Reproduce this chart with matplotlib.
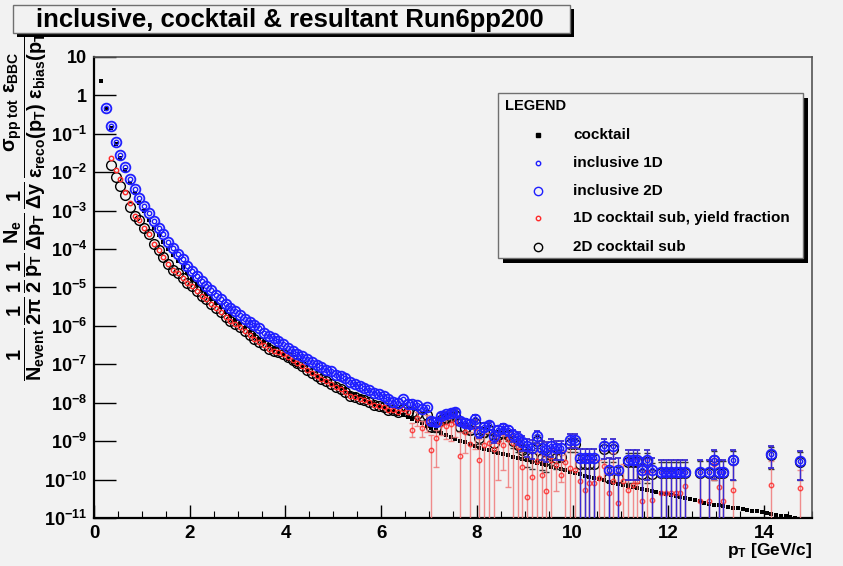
import numpy as np
import matplotlib
matplotlib.use("Agg")
import matplotlib.pyplot as plt
from matplotlib.lines import Line2D
from matplotlib.patches import Rectangle
from matplotlib.ticker import FixedLocator, LogLocator, MultipleLocator, NullFormatter

# ---- values, all as log10(yield) ----
# cocktail, bin centres 0.15, 0.25, ... 14.65
cocktail_log = [
    0.38, -0.36, -0.84, -1.27, -1.63, -1.95, -2.27, -2.55, -2.80, -3.02,
    -3.23, -3.44, -3.63, -3.81, -3.99, -4.16, -4.32, -4.47, -4.62, -4.77,
    -4.91, -5.04, -5.17, -5.29, -5.41, -5.52, -5.63, -5.74, -5.85, -5.96,
    -6.06, -6.15, -6.24, -6.33, -6.42, -6.50, -6.59, -6.67, -6.76, -6.85,
    -6.93, -7.01, -7.08, -7.16, -7.23, -7.30, -7.37, -7.43, -7.50, -7.56,
    -7.62, -7.68, -7.74, -7.80, -7.86, -7.91, -7.97, -8.02, -8.08, -8.13,
    -8.18, -8.23, -8.28, -8.33, -8.38, -8.43, -8.48, -8.54, -8.60, -8.66,
    -8.72, -8.78, -8.84, -8.89, -8.94, -8.99, -9.03, -9.08, -9.12, -9.17,
    -9.21, -9.24, -9.28, -9.31, -9.34, -9.37, -9.40, -9.44, -9.47, -9.50,
    -9.53, -9.57, -9.60, -9.63, -9.66, -9.70, -9.73, -9.76, -9.79, -9.83,
    -9.86, -9.90, -9.93, -9.96, -9.99, -10.02, -10.05, -10.08, -10.11, -10.14,
    -10.17, -10.20, -10.23, -10.25, -10.28, -10.31, -10.33, -10.36, -10.38, -10.41,
    -10.43, -10.46, -10.48, -10.51, -10.54, -10.57, -10.60, -10.63, -10.65, -10.67,
    -10.69, -10.71, -10.73, -10.75, -10.77, -10.79, -10.81, -10.83, -10.85, -10.87,
    -10.89, -10.92, -10.94, -10.96, -10.98, -11.00,
]

# inclusive (1D and 2D sit on top of each other), bin centres 0.25 ... 6.95
incl_low_log = [
    -0.33, -0.80, -1.22, -1.56, -1.87, -2.18, -2.44, -2.67, -2.88, -3.07,
    -3.28, -3.46, -3.62, -3.82, -3.98, -4.12, -4.26, -4.43, -4.56, -4.71,
    -4.82, -4.95, -5.06, -5.19, -5.31, -5.42, -5.53, -5.62, -5.72, -5.81,
    -5.90, -5.98, -6.06, -6.18, -6.25, -6.32, -6.40, -6.48, -6.57, -6.66,
    -6.73, -6.79, -6.87, -6.95, -7.02, -7.08, -7.15, -7.18, -7.27, -7.31,
    -7.35, -7.45, -7.51, -7.57, -7.61, -7.68, -7.74, -7.78, -7.83, -7.90,
    -7.97, -8.00, -7.91, -8.02, -8.04, -8.07, -8.15, -8.11,
]

# high pT bins that have entries
high_pt = [
    7.05, 7.15, 7.25, 7.35, 7.45, 7.55, 7.65, 7.75, 7.85, 7.95,
    8.05, 8.15, 8.25, 8.35, 8.45, 8.55, 8.65, 8.75, 8.85, 8.95,
    9.05, 9.15, 9.25, 9.35, 9.45, 9.55, 9.65, 9.75, 9.95, 10.05,
    10.15, 10.25, 10.35, 10.45, 10.65, 10.75, 10.85, 10.95, 11.15, 11.25,
    11.35, 11.45, 11.55, 11.65, 11.85, 11.95, 12.05, 12.15, 12.25, 12.35,
    12.65, 12.85, 12.95, 13.05, 13.15, 13.35, 14.15, 14.75,
]
incl_high_log = [
    -8.48, -8.49, -8.35, -8.30, -8.26, -8.23, -8.48, -8.52, -8.55, -8.41,
    -8.76, -8.63, -8.59, -8.87, -8.72, -8.67, -8.72, -8.83, -8.91, -9.02,
    -9.13, -9.17, -8.87, -9.19, -9.22, -9.13, -9.19, -9.19, -8.96, -8.96,
    -9.45, -9.45, -9.45, -9.45, -9.13, -9.74, -9.13, -9.74, -9.48, -9.48,
    -9.48, -9.74, -9.48, -9.74, -9.79, -9.79, -9.79, -9.79, -9.79, -9.79,
    -9.79, -9.79, -9.48, -9.79, -9.79, -9.48, -9.33, -9.52,
]
# error bar extents in decades (9 = runs off the bottom of the frame)
incl_high_up = [
    .09, .09, .08, .07, .07, .07, .09, .09, .10, .08,
    .12, .10, .10, .14, .12, .11, .12, .13, .14, .16,
    .18, .19, .14, .19, .20, .18, .19, .19, .15, .15,
    .24, .24, .24, .24, .18, .30, .18, .30, .24, .24,
    .24, .30, .24, .30, .31, .31, .31, .31, .31, .31,
    .31, .31, .24, .31, .31, .24, .21, .26,
]
incl_high_dn = [
    .11, .11, .09, .09, .08, .08, .11, .12, .12, .10,
    .16, .14, .13, .19, .15, .14, .15, .18, .20, .24,
    .28, .30, .19, .30, .32, .28, .30, .30, .21, .21,
    9, 9, 9, 9, .33, 9, .33, 9, .54, .54,
    .54, 9, .54, 9, 9, 9, 9, 9, 9, 9,
    9, 9, .50, 9, 9, .52, .37, .48,
]

# cocktail-subtracted, bin centres 0.35 ... 6.55
sub1d_head_log = [-1.62, -1.93, -2.17, -2.52, -2.80]
sub2d_head_log = [-1.82, -2.12, -2.37, -2.58, -2.91]
sub_low_log = [
    -3.13, -3.25, -3.46, -3.60, -3.86, -4.02, -4.20, -4.40, -4.54, -4.62,
    -4.75, -4.87, -4.97, -5.08, -5.21, -5.31, -5.42, -5.53, -5.64, -5.76,
    -5.86, -5.95, -6.04, -6.14, -6.23, -6.33, -6.42, -6.50, -6.59, -6.64,
    -6.69, -6.74, -6.80, -6.88, -6.96, -7.05, -7.14, -7.23, -7.30, -7.38,
    -7.44, -7.50, -7.59, -7.65, -7.72, -7.82, -7.85, -7.90, -7.94, -7.99,
    -8.05, -8.09, -8.12, -8.18, -8.20, -8.25, -8.15, -8.25,
]
# 2D subtracted: 6.65 ... 6.95, then the high_pt bins
sub2d_mid_log = [-8.25, -8.30, -8.35, -8.32]
sub2d_high_log = [
    -8.62, -8.64, -8.45, -8.40, -8.36, -8.32, -8.62, -8.66, -8.70, -8.52,
    -8.92, -8.76, -8.71, -9.06, -8.85, -8.79, -8.85, -8.99, -9.09, -9.23,
    -9.38, -9.42, -8.99, -9.44, -9.48, -9.35, -9.43, -9.42, -9.08, -9.08,
    -9.59, -9.59, -9.59, -9.59, -9.20, -9.97, -9.20, -9.97, -9.55, -9.55,
    -9.55, -9.86, -9.55, -9.86, -9.84, -9.84, -9.84, -9.84, -9.84, -9.84,
    -9.83, -9.83, -9.50, -9.83, -9.83, -9.50, -9.35, -9.53,
]

# 1D subtracted (yield fraction) above 6.6 GeV/c
red_pt = [
    6.65, 6.75, 6.85, 6.95, 7.05, 7.15, 7.25, 7.35, 7.45, 7.55,
    7.65, 7.75, 7.85, 7.95, 8.05, 8.15, 8.25, 8.35, 8.45, 8.55,
    8.65, 8.75, 8.85, 8.95, 9.05, 9.15, 9.25, 9.35, 9.45, 9.55,
    9.65, 9.75, 9.85, 9.95, 10.05, 10.15, 10.25, 10.35, 10.45, 10.55,
    10.65, 10.75, 10.85, 10.95, 11.05, 11.15, 11.25, 11.35, 11.45, 11.55,
    11.65, 11.85, 11.95, 12.05, 12.15, 12.25, 12.35, 12.65, 12.85, 12.95,
    13.05, 13.15, 13.35, 14.15, 14.75,
]
red_log = [
    -8.70, -8.40, -8.65, -8.50, -9.24, -8.91, -8.55, -8.60, -8.55, -8.50,
    -9.39, -8.75, -9.07, -8.65, -9.48, -9.10, -9.05, -9.20, -9.00, -9.10,
    -8.95, -9.05, -9.15, -9.68, -10.46, -9.94, -9.52, -9.87, -10.30, -9.50,
    -9.61, -9.87, -9.55, -9.70, -9.74, -10.04, -10.26, -10.09, -10.09, -9.96,
    -9.65, -10.35, -10.04, -10.61, -10.04, -10.26, -10.13, -10.04, -10.55, -9.80,
    -10.52, -10.35, -10.35, -10.35, -10.35, -10.35, -10.18, -10.55, -10.55, -9.60,
    -10.20, -10.55, -10.26, -10.13, -10.22,
]
red_up = [
    .18, .15, .17, .18, .39, .21, .15, .18, .17, .15,
    .64, .20, .32, .20, .53, .30, .27, .30, .20, .25,
    .20, .20, .20, .43, 1.06, .64, .47, .52, .90, .30,
    .31, .52, .30, .55, .59, .59, .76, .59, .59, .46,
    .40, .55, .74, .81, .44, .76, .63, .54, .75, .30,
    .72, .55, .55, .55, .55, .55, .38, .76, .76, .15,
    .41, .76, .64, .62, .48,
]
red_dn = [
    .20, .20, .25, .25, 9, .77, .30, .35, .45, .40,
    9, .55, 9, .55, 9, 9, 9, 9, 1.00, .65,
    1.25, 9, 9, 9, 9, 9, 9, 9, 9, 9,
    .69, .18, 9, 9, 9, 9, 9, 9, 9, 9,
    9, 9, 9, 9, 9, 9, 9, 9, 9, 9,
    9, 9, 9, 9, 9, 9, 9, 9, 9, .40,
    9, 9, 9, 9, 9,
]

# ---- style ----
BG = "#f2f2f2"
BLUE = "#1f1fff"
RED = "#ff2a2a"
RED_BAR = "#f07a7a"

plt.rcParams["font.family"] = ["Liberation Sans", "DejaVu Sans"]
plt.rcParams["font.weight"] = "bold"
plt.rcParams["mathtext.fontset"] = "custom"
plt.rcParams["mathtext.rm"] = "Liberation Sans:bold"
plt.rcParams["mathtext.it"] = "Liberation Sans:bold"
plt.rcParams["mathtext.bf"] = "Liberation Sans:bold"
plt.rcParams["mathtext.sf"] = "Liberation Sans:bold"

W, H = 843, 566


def px_x(px):
    return px / W


def px_y(py):
    return 1 - py / H


def lin(logs):
    return 10.0 ** np.asarray(logs, dtype=float)


def log_err(logs, dn, up):
    logs = np.asarray(logs, dtype=float)
    v = 10.0 ** logs
    return [v - 10.0 ** (logs - np.asarray(dn)), 10.0 ** (logs + np.asarray(up)) - v]


pt_cocktail = np.round(0.15 + 0.1 * np.arange(len(cocktail_log)), 2)
pt_incl_low = np.round(0.25 + 0.1 * np.arange(len(incl_low_log)), 2)
pt_sub_low = np.round(0.35 + 0.1 * np.arange(len(sub1d_head_log) + len(sub_low_log)), 2)
pt_sub2d_mid = np.round(6.65 + 0.1 * np.arange(len(sub2d_mid_log)), 2)

fig = plt.figure(figsize=(W / 100, H / 100), dpi=100, facecolor=BG)
ax = fig.add_axes([px_x(94), px_y(518), (812 - 94) / W, (518 - 57) / H])
ax.set_facecolor(BG)
ax.set_yscale("log")
ax.set_xlim(0, 15)
ax.set_ylim(1e-11, 10)

# cocktail
ax.plot(pt_cocktail, lin(cocktail_log), ls="none", marker="s", ms=2.4,
        mfc="black", mec="black", mew=0, zorder=3)

# 2D cocktail subtracted
ax.plot(pt_sub_low, lin(sub2d_head_log + sub_low_log), ls="none", marker="o", ms=7,
        mfc="none", mec="black", mew=1.0, zorder=4)
ax.plot(pt_sub2d_mid, lin(sub2d_mid_log), ls="none", marker="o", ms=7,
        mfc="none", mec="black", mew=1.0, zorder=4)
ax.errorbar(high_pt, lin(sub2d_high_log), yerr=log_err(sub2d_high_log, incl_high_dn, incl_high_up),
            fmt="o", ms=7, mfc="none", mec="black", mew=1.0, ecolor="#333333",
            elinewidth=0.8, capsize=2.2, capthick=0.8, zorder=4)

# 1D cocktail subtracted, yield fraction
ax.plot(pt_sub_low, lin(sub1d_head_log + sub_low_log), ls="none", marker="o", ms=3.2,
        mfc="none", mec=RED, mew=1.0, zorder=5)
ax.errorbar(red_pt, lin(red_log), yerr=log_err(red_log, red_dn, red_up),
            fmt="o", ms=3.2, mfc="none", mec=RED, mew=1.0, ecolor=RED_BAR,
            elinewidth=1.0, capsize=2.2, capthick=1.0, alpha=0.85, zorder=5)

# inclusive 2D (large) and 1D (small)
ax.plot(pt_incl_low, lin(incl_low_log), ls="none", marker="o", ms=7,
        mfc="none", mec=BLUE, mew=1.3, zorder=6)
ax.plot(pt_incl_low, lin(incl_low_log), ls="none", marker="o", ms=3.2,
        mfc="none", mec=BLUE, mew=1.0, zorder=7)
ax.errorbar(high_pt, lin(incl_high_log), yerr=log_err(incl_high_log, incl_high_dn, incl_high_up),
            fmt="o", ms=7, mfc="none", mec=BLUE, mew=1.3, ecolor="#3a2ad0",
            elinewidth=1.0, capsize=2.4, capthick=1.0, zorder=6)
ax.plot(high_pt, lin(incl_high_log), ls="none", marker="o", ms=3.2,
        mfc="none", mec=BLUE, mew=1.0, zorder=7)

# axes, ticks
decades = list(range(-11, 2))
ax.yaxis.set_major_locator(FixedLocator([10.0 ** d for d in decades]))
ylabels = []
for d in decades:
    if d == 1:
        ylabels.append("10")
    elif d == 0:
        ylabels.append("1")
    else:
        ylabels.append(r"$10^{%d}$" % d)
ax.set_yticklabels(ylabels)
ax.yaxis.set_minor_locator(LogLocator(base=10, subs=np.arange(2, 10)))
ax.yaxis.set_minor_formatter(NullFormatter())
ax.xaxis.set_major_locator(MultipleLocator(2))
ax.xaxis.set_minor_locator(MultipleLocator(0.5))

ax.tick_params(axis="y", which="major", direction="in", length=16, width=1.0,
               labelsize=13, pad=5)
ax.tick_params(axis="y", which="minor", direction="in", length=8.5, width=0.8)
ax.tick_params(axis="x", which="major", direction="in", length=9.5, width=1.0,
               labelsize=13.5, pad=5)
ax.tick_params(axis="x", which="minor", direction="in", length=5, width=0.8)
for side in ("left", "bottom"):
    ax.spines[side].set_color("black")
    ax.spines[side].set_linewidth(1.6)
for side in ("top", "right"):
    ax.spines[side].set_color("#555555")
    ax.spines[side].set_linewidth(1.2)

# axis titles
fig.text(px_x(812), px_y(551), r"$p_{T}$ [GeV/c]", ha="right", va="center",
         fontsize=12.5, fontweight="bold")
ylab = (r"$\dfrac{1}{N_{event}}\,\dfrac{1}{2\pi}\,\dfrac{1}{2}\,\dfrac{1}{p_{T}}\,"
        r"\dfrac{N_{e}}{\Delta p_{T}}\,\dfrac{1}{\Delta y}\,"
        r"\dfrac{\sigma_{pp\ tot}\ \varepsilon_{BBC}}"
        r"{\varepsilon_{reco}(p_{T})\ \varepsilon_{bias}(p_{T})}$")
fig.text(px_x(26), px_y(202), ylab, rotation=90, ha="center", va="center", fontsize=14.3)

# title box with shadow
fig.add_artist(Rectangle((px_x(17), px_y(37)), (570 - 13) / W, (33 - 5) / H,
                         transform=fig.transFigure, fc="black", ec="none", zorder=5))
fig.add_artist(Rectangle((px_x(13), px_y(33)), (570 - 13) / W, (33 - 5) / H,
                         transform=fig.transFigure, fc=BG, ec="#707070", lw=1.0, zorder=6))
fig.text(px_x(290), px_y(20), "inclusive, cocktail & resultant Run6pp200",
         ha="center", va="center", fontsize=18.5, fontweight="bold", zorder=7)

# legend box with shadow
fig.add_artist(Rectangle((px_x(503), px_y(263)), (803 - 498) / W, (258 - 93) / H,
                         transform=fig.transFigure, fc="black", ec="none", zorder=5))
fig.add_artist(Rectangle((px_x(498), px_y(258)), (803 - 498) / W, (258 - 93) / H,
                         transform=fig.transFigure, fc=BG, ec="#707070", lw=1.0, zorder=6))
fig.text(px_x(505), px_y(106), "LEGEND", ha="left", va="center", fontsize=10.5,
         fontweight="bold", zorder=7)

legend_labels = ["cocktail", "inclusive 1D", "inclusive 2D",
                 "1D cocktail sub, yield fraction", "2D cocktail sub"]
legend_marks = [("s", 2.4, "black", "black"), ("o", 3.2, "none", BLUE),
                ("o", 6.0, "none", BLUE), ("o", 3.2, "none", RED),
                ("o", 6.0, "none", "black")]
legend_rows = [135, 163, 191, 218, 247]
for label, (mk, ms, fc, ec), row in zip(legend_labels, legend_marks, legend_rows):
    fig.add_artist(Line2D([px_x(538)], [px_y(row)], transform=fig.transFigure,
                          ls="none", marker=mk, ms=ms, mfc=fc, mec=ec, mew=1.0, zorder=7))
    fig.text(px_x(573), px_y(row), label, ha="left", va="center", fontsize=11,
             fontweight="bold", zorder=7)

fig.savefig("out.png", dpi=100, facecolor=BG)
